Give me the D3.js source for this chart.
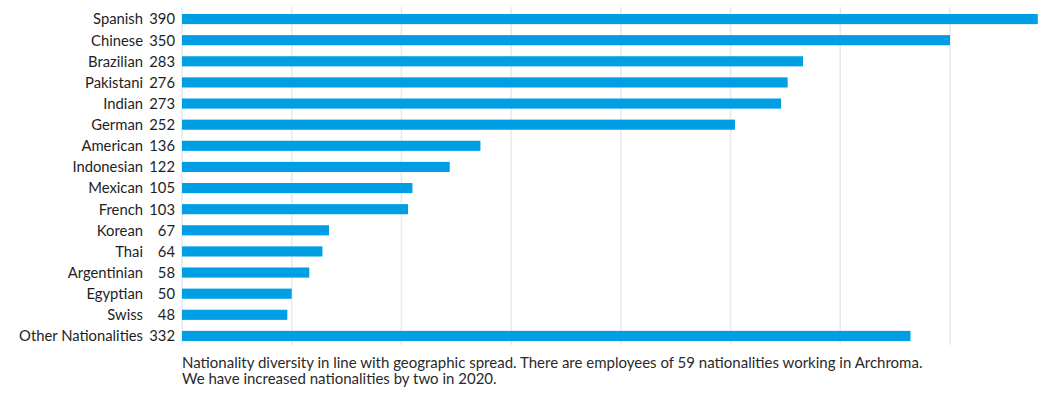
<!DOCTYPE html>
<html>
<head>
<meta charset="utf-8">
<script src="https://cdn.jsdelivr.net/npm/d3@7"></script>
<style>
  html, body { margin: 0; padding: 0; background: #fff; }
  svg { display: block; font-family: Lato, "Open Sans", sans-serif; }
</style>
</head>
<body>
<svg id="chart" width="1053" height="394"></svg>
<script>
// Employees by nationality
const categories = ["Spanish", "Chinese", "Brazilian", "Pakistani", "Indian", "German",
  "American", "Indonesian", "Mexican", "French", "Korean", "Thai", "Argentinian",
  "Egyptian", "Swiss", "Other Nationalities"];
const values = [390, 350, 283, 276, 273, 252, 136, 122, 105, 103, 67, 64, 58, 50, 48, 332];
const gridTicks = [0, 50, 100, 150, 200, 250, 300, 350];
const captionLines = [
  "Nationality diversity in line with geographic spread. There are employees of 59 nationalities working in Archroma.",
  "We have increased nationalities by two in 2020."
];

const svg = d3.select("#chart");
const left = 182;

const x = d3.scaleLinear().domain([0, 350]).range([left, 950]);
const y = d3.scaleBand().domain(categories).range([8.5, 346.5]).paddingInner(0.52).paddingOuter(0.26);

// vertical gridlines
svg.append("g").selectAll("line").data(gridTicks).join("line")
  .attr("x1", d => x(d)).attr("x2", d => x(d))
  .attr("y1", 7).attr("y2", 345)
  .attr("stroke", "#e6e9ed").attr("stroke-width", 1.5);

// bars
svg.append("g").selectAll("rect").data(categories).join("rect")
  .attr("x", x(0))
  .attr("y", d => y(d))
  .attr("width", (d, i) => x(values[i]) - x(0))
  .attr("height", y.bandwidth())
  .attr("fill", "#009fe3");

// category names
svg.append("g").selectAll("text").data(categories).join("text")
  .attr("x", 143)
  .attr("y", d => y(d) + y.bandwidth() / 2)
  .attr("dy", "0.36em")
  .attr("text-anchor", "end")
  .attr("font-size", 14.8)
  .attr("fill", "#1e1e1e")
  .text(d => d);

// values
svg.append("g").selectAll("text").data(categories).join("text")
  .attr("x", 175)
  .attr("y", d => y(d) + y.bandwidth() / 2)
  .attr("dy", "0.36em")
  .attr("text-anchor", "end")
  .attr("font-size", 14.8)
  .attr("fill", "#1e1e1e")
  .text((d, i) => values[i]);

// caption
svg.append("g").selectAll("text").data(captionLines).join("text")
  .attr("x", left)
  .attr("y", (d, i) => 368 + i * 16)
  .attr("font-size", 15)
  .attr("fill", "#2a2a2a")
  .text(d => d);
</script>
</body>
</html>
